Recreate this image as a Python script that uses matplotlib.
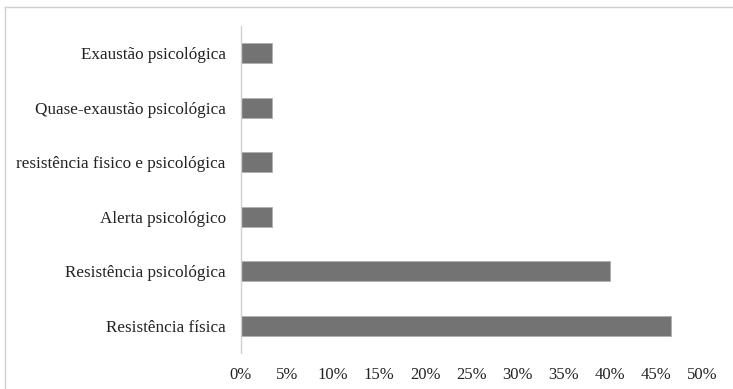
import matplotlib.pyplot as plt
from matplotlib.ticker import PercentFormatter

# categories from bottom to top
categories = ['Resistência física', 'Resistência psicológica', 'Alerta psicológico',
              'resistência fisico e psicológica', 'Quase-exaustão psicológica',
              'Exaustão psicológica']
values = [46.67, 40.0, 3.33, 3.33, 3.33, 3.33]
xticks = [0, 5, 10, 15, 20, 25, 30, 35, 40, 45, 50]

plt.rcParams['font.family'] = ['Liberation Serif', 'DejaVu Serif']

fig = plt.figure(figsize=(7.33, 3.89), dpi=100)
ax = fig.add_axes([241 / 733, 1 - 353 / 389, 461 / 733, 327 / 389])

ax.barh(categories, values, height=0.36, color='#737373', edgecolor='#b0b0b0', linewidth=0.6)

ax.set_xlim(0, 50)
ax.set_ylim(-0.5, len(categories) - 0.5)
ax.set_xticks(xticks)
ax.xaxis.set_major_formatter(PercentFormatter(decimals=0))
ax.tick_params(axis='both', length=0, colors='#222222')
ax.tick_params(axis='x', pad=10, labelsize=12)
ax.tick_params(axis='y', pad=11, labelsize=12.3)

for s in ['top', 'right', 'bottom']:
    ax.spines[s].set_visible(False)
ax.spines['left'].set_color('#d0d0d0')
ax.spines['left'].set_linewidth(1)

# outer chart border (top and left visible in the crop)
fig.add_artist(plt.Line2D([5 / 733, 1.0], [1 - 7 / 389, 1 - 7 / 389], color='#d0d0d0', lw=1))
fig.add_artist(plt.Line2D([5 / 733, 5 / 733], [0.0, 1 - 7 / 389], color='#d0d0d0', lw=1))

fig.savefig('out.png', dpi=100)
